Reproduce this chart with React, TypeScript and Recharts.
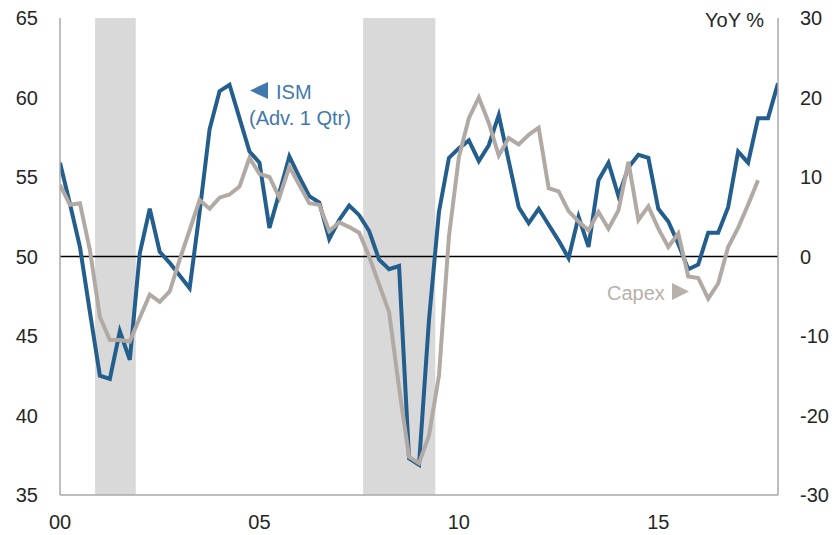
import React from "react";
import {
  LineChart,
  Line,
  XAxis,
  YAxis,
  ReferenceArea,
  ReferenceLine,
} from "recharts";

// Quarterly observations starting 2000 Q1
const START_YEAR = 2000;

// ISM (advanced 1 quarter), left axis
const ismValues: number[] = [
  55.9, 53.3, 50.6, 46.5, 42.5, 42.3, 45.3, 43.5, 50.2, 53.0,
  50.3, 49.6, 48.8, 48.0, 52.8, 58.0, 60.4, 60.8, 58.7, 56.6,
  55.9, 51.8, 54.0, 56.3, 55.0, 53.8, 53.4, 51.1, 52.3, 53.2,
  52.6, 51.6, 49.8, 49.2, 49.4, 37.3, 36.9, 46.0, 52.8, 56.2,
  56.8, 57.3, 56.0, 57.0, 58.9, 56.0, 53.1, 52.1, 53.0, 52.0,
  51.0, 49.9, 52.5, 50.6, 54.8, 55.9, 53.8, 55.6, 56.4, 56.2,
  53.0, 52.2, 50.8, 49.2, 49.5, 51.5, 51.5, 53.1, 56.6, 55.9,
  58.7, 58.7, 60.9,
];

// Capex YoY %, right axis
const capexValues: (number | null)[] = [
  9.0, 6.5, 6.7, 0.8, -7.6, -10.5, -10.5, -10.7, -7.7, -4.8,
  -5.7, -4.4, -0.4, 3.3, 7.1, 6.0, 7.4, 7.8, 8.8, 12.4,
  10.4, 10.0, 7.4, 11.3, 9.0, 6.7, 6.5, 3.2, 4.3, 3.7,
  3.0, 0.0, -3.5, -7.0, -16.5, -25.2, -26.0, -22.5, -15.0, 2.5,
  12.5, 17.4, 20.0, 16.8, 12.7, 14.9, 14.1, 15.3, 16.2, 8.6,
  8.2, 5.7, 4.4, 3.3, 5.6, 3.5, 5.8, 11.9, 4.6, 6.3,
  3.5, 1.2, 2.9, -2.5, -2.7, -5.3, -3.4, 1.2, 3.6, 6.5,
  9.6, null, null,
];

// Recession periods (fractional years)
const recessions: [number, number][] = [
  [2000.88, 2001.9],
  [2007.6, 2009.41],
];

const xTicks = [2000, 2005, 2010, 2015];
const leftTicks = [35, 40, 45, 50, 55, 60, 65];
const rightTicks = [-30, -20, -10, 0, 10, 20, 30];

const data = ismValues.map((v, i) => ({
  t: START_YEAR + i / 4,
  ism: v,
  capex: capexValues[i],
}));

const FONT = "'Liberation Sans', Arial, Helvetica, sans-serif";
const BLUE = "#245e8d";
const BLUE_TEXT = "#3f78ad";
const GRAY = "#b1aaa4";
const GRAY_TEXT = "#b8b0aa";
const AXIS = "#a8a8a8";
const tickStyle = { fontSize: 20, fill: "#262626", fontFamily: FONT };

export default function App() {
  return (
    <div style={{ position: "absolute", left: 0, top: 0, width: 836, height: 535, background: "#fff" }}>
      <LineChart
        width={836}
        height={535}
        data={data}
        margin={{ top: 18, right: 0, bottom: 0, left: 0 }}
      >
        {recessions.map(([a, b], i) => (
          <ReferenceArea
            key={i}
            x1={a}
            x2={b}
            yAxisId="left"
            fill="#d9d9d9"
            fillOpacity={1}
            stroke="none"
            ifOverflow="visible"
          />
        ))}
        <XAxis
          type="number"
          dataKey="t"
          domain={[2000, 2018]}
          ticks={xTicks}
          tickFormatter={(v: number) => String(v % 100).padStart(2, "0")}
          height={40}
          axisLine={{ stroke: AXIS, strokeWidth: 1.5 }}
          tickLine={false}
          tickSize={0}
          tickMargin={20}
          tick={tickStyle}
          allowDataOverflow
        />
        <YAxis
          yAxisId="left"
          orientation="left"
          domain={[35, 65]}
          ticks={leftTicks}
          width={60}
          axisLine={{ stroke: AXIS, strokeWidth: 1.5 }}
          tickLine={false}
          tickSize={0}
          tickMargin={22}
          tick={tickStyle}
          interval={0}
        />
        <YAxis
          yAxisId="right"
          orientation="right"
          domain={[-30, 30]}
          ticks={rightTicks}
          width={58}
          axisLine={{ stroke: AXIS, strokeWidth: 1.5 }}
          tickLine={false}
          tickSize={0}
          tickMargin={22}
          tick={tickStyle}
          interval={0}
        />
        <ReferenceLine yAxisId="left" y={50} stroke="#000" strokeWidth={1.5} />
        <Line
          yAxisId="left"
          dataKey="ism"
          stroke={BLUE}
          strokeWidth={4}
          dot={false}
          isAnimationActive={false}
        />
        <Line
          yAxisId="right"
          dataKey="capex"
          stroke={GRAY}
          strokeWidth={4}
          dot={false}
          isAnimationActive={false}
          connectNulls={false}
        />
      </LineChart>
      <svg
        width={836}
        height={535}
        style={{ position: "absolute", left: 0, top: 0, pointerEvents: "none" }}
      >
        <text x={764} y={27} textAnchor="end" fontSize={20} fill="#262626" fontFamily={FONT}>
          YoY %
        </text>
        <polygon points="250,90.5 268,82 268,99" fill={BLUE_TEXT} />
        <text x={276} y={99} fontSize={20} fill={BLUE_TEXT} fontFamily={FONT}>
          ISM
        </text>
        <text x={249} y={125} fontSize={20} fill={BLUE_TEXT} fontFamily={FONT}>
          (Adv. 1 Qtr)
        </text>
        <text x={607} y={300} fontSize={20} fill={GRAY_TEXT} fontFamily={FONT}>
          Capex
        </text>
        <polygon points="672,283 672,300 689,291.5" fill={GRAY_TEXT} />
      </svg>
    </div>
  );
}
